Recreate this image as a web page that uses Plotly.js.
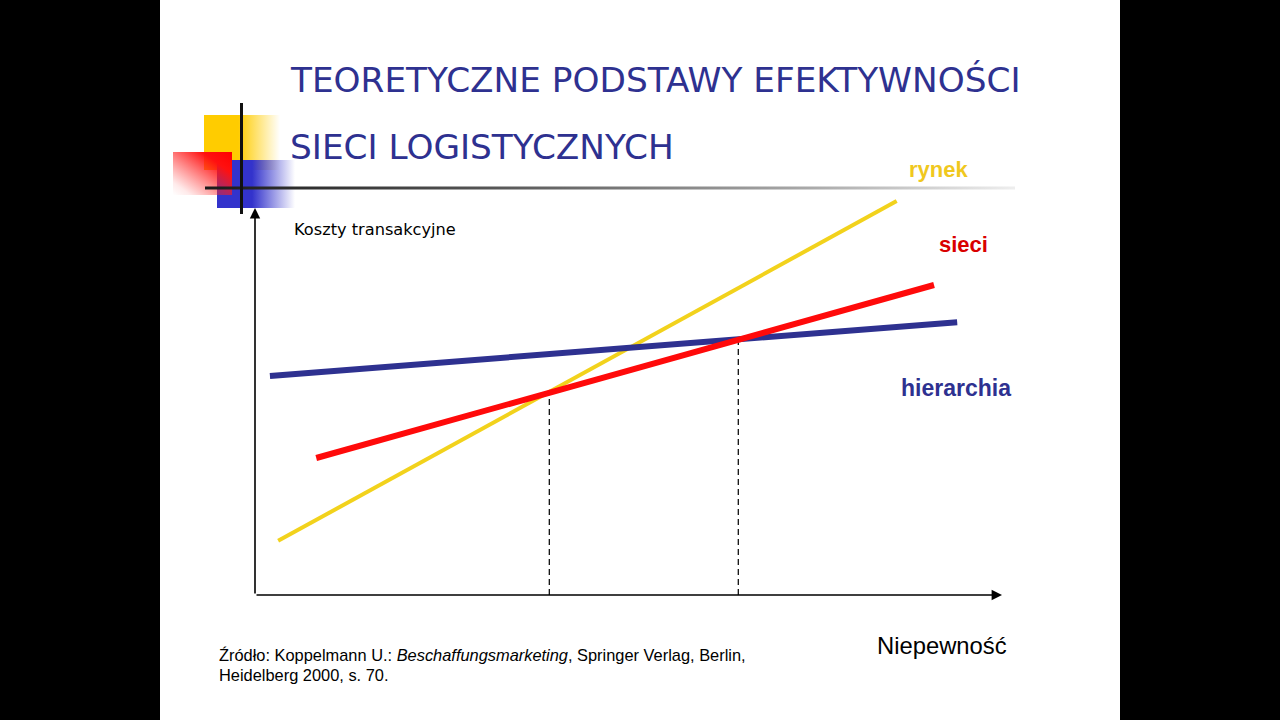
<!DOCTYPE html>
<html>
<head>
<meta charset="utf-8">
<script src="https://cdn.plot.ly/plotly-3.0.1.min.js"></script>
<style>
html,body{margin:0;padding:0;background:#000;}
#chart{width:1280px;height:720px;}
</style>
</head>
<body>
<div id="chart"></div>
<script>
// ---- data (arbitrary units, origin at the axes corner) ----
const seriesNames = ['rynek', 'sieci', 'hierarchia'];
const rynekX = [0.31, 8.59];
const rynekY = [1.40, 10.18];
const sieciX = [0.82, 9.09];
const sieciY = [3.54, 8.01];
const hierarchiaX = [0.20, 9.40];
const hierarchiaY = [5.66, 7.05];
const crossX = [3.94, 6.47];
const crossY = [5.22, 6.61];
const axisMaxX = 10;
const axisMaxY = 10;
const titleLines = ['TEORETYCZNE PODSTAWY EFEKTYWNOŚCI', 'SIECI LOGISTYCZNYCH'];
const yAxisLabel = 'Koszty transakcyjne';
const xAxisLabel = 'Niepewność';
const sourceLines = ['Źródło: Koppelmann U.: <i>Beschaffungsmarketing</i>, Springer Verlag, Berlin,', 'Heidelberg 2000, s. 70.'];

// ---- layout geometry ----
const W = 1280, H = 720;
const X0 = 255, XS = 74.7;   // pixel of x=0, pixels per unit
const Y0 = 595, YS = 38.7;   // pixel of y=0, pixels per unit
const px = v => v / W;
const py = v => 1 - v / H;

const colors = {rynek: '#F2D21C', sieci: '#FF0A0A', hierarchia: '#2E3190'};
const labelColors = {rynek: '#F0C81E', sieci: '#D90000', hierarchia: '#2E3190'};
const widths = {rynek: 4, sieci: 6, hierarchia: 6};
const seriesX = {rynek: rynekX, sieci: sieciX, hierarchia: hierarchiaX};
const seriesY = {rynek: rynekY, sieci: sieciY, hierarchia: hierarchiaY};

const traces = [];
crossX.forEach((cx, i) => {
  traces.push({x: [cx, cx], y: [0, crossY[i]], mode: 'lines', type: 'scatter',
    line: {color: '#111', width: 1.3, dash: '6px,4px'}, hoverinfo: 'skip', showlegend: false});
});
['rynek', 'hierarchia', 'sieci'].forEach(n => {
  traces.push({x: seriesX[n], y: seriesY[n], name: n, mode: 'lines', type: 'scatter',
    line: {color: colors[n], width: widths[n]}, hoverinfo: 'skip', showlegend: false});
});

// decorative slide ornament (gradients) as an SVG image
const svg = `<svg xmlns="http://www.w3.org/2000/svg" width="960" height="720" viewBox="160 0 960 720">
<defs>
<linearGradient id="gy" x1="0" y1="0" x2="1" y2="0">
<stop offset="0" stop-color="#FFCC00"/><stop offset="0.45" stop-color="#FFCC00"/><stop offset="1" stop-color="#FFCC00" stop-opacity="0"/></linearGradient>
<linearGradient id="gb" x1="0" y1="0" x2="1" y2="0">
<stop offset="0" stop-color="#3333CC"/><stop offset="0.45" stop-color="#3333CC"/><stop offset="1" stop-color="#3333CC" stop-opacity="0"/></linearGradient>
<linearGradient id="gr" x1="1" y1="0" x2="0" y2="1">
<stop offset="0" stop-color="#FF0000"/><stop offset="0.25" stop-color="#FF1010"/><stop offset="0.85" stop-color="#FF3030" stop-opacity="0.1"/><stop offset="1" stop-color="#FF3030" stop-opacity="0"/></linearGradient>
<linearGradient id="gl" x1="0" y1="0" x2="1" y2="0">
<stop offset="0" stop-color="#1a1a1a"/><stop offset="0.35" stop-color="#555"/><stop offset="0.75" stop-color="#aaa"/><stop offset="1" stop-color="#eee"/></linearGradient>
</defs>
<rect x="204" y="115" width="76" height="55" fill="url(#gy)"/>
<rect x="217" y="160" width="78" height="48" fill="url(#gb)"/>
<rect x="173" y="152" width="59" height="43" fill="url(#gr)"/>
<rect x="205" y="186.5" width="810" height="3" fill="url(#gl)"/>
<rect x="240" y="103" width="3" height="111" fill="#111"/>
</svg>`;

const annotations = [];
// axes with arrows
annotations.push({x: axisMaxX, y: 0, ax: 0, ay: 0, xref: 'x', yref: 'y', axref: 'x', ayref: 'y',
  text: '', showarrow: true, arrowhead: 2, arrowsize: 1.3, arrowwidth: 1.6, arrowcolor: '#000', standoff: 0});
annotations.push({x: 0, y: axisMaxY, ax: 0, ay: 0, xref: 'x', yref: 'y', axref: 'x', ayref: 'y',
  text: '', showarrow: true, arrowhead: 2, arrowsize: 1.3, arrowwidth: 1.6, arrowcolor: '#000', standoff: 0});
// title
const titleY = [80, 147];
titleLines.forEach((t, i) => annotations.push({xref: 'paper', yref: 'paper', x: px(288), y: py(titleY[i]),
  xanchor: 'left', yanchor: 'middle', showarrow: false, text: t,
  font: {family: 'DejaVu Sans', size: 34.3, color: '#2E3190'}}));
// axis labels
annotations.push({xref: 'paper', yref: 'paper', x: px(292), y: py(229), xanchor: 'left', yanchor: 'middle',
  showarrow: false, text: yAxisLabel, font: {family: 'DejaVu Sans', size: 16.2, color: '#000'}});
annotations.push({xref: 'paper', yref: 'paper', x: px(942), y: py(645), xanchor: 'center', yanchor: 'middle',
  showarrow: false, text: xAxisLabel, font: {family: 'Liberation Sans', size: 23.8, color: '#000'}});
// series labels
const labelPos = {rynek: [938, 169], sieci: [963, 244], hierarchia: [956, 388]};
const labelSize = {rynek: 22, sieci: 22, hierarchia: 23};
seriesNames.forEach(n => annotations.push({xref: 'paper', yref: 'paper', x: px(labelPos[n][0]), y: py(labelPos[n][1]),
  xanchor: 'center', yanchor: 'middle', showarrow: false, text: '<b>' + n + '</b>',
  font: {family: 'Liberation Sans', size: labelSize[n], color: labelColors[n]}}));
// source
const srcY = [655, 675];
sourceLines.forEach((t, i) => annotations.push({xref: 'paper', yref: 'paper', x: px(217), y: py(srcY[i]),
  xanchor: 'left', yanchor: 'middle', showarrow: false, text: t,
  font: {family: 'Liberation Sans', size: 16.4, color: '#000'}}));

const layout = {
  width: W, height: H,
  margin: {l: 0, r: 0, t: 0, b: 0, pad: 0},
  paper_bgcolor: '#ffffff', plot_bgcolor: 'rgba(0,0,0,0)',
  showlegend: false,
  xaxis: {range: [-X0 / XS, (W - X0) / XS], visible: false, fixedrange: true},
  yaxis: {range: [-(H - Y0) / YS, Y0 / YS], visible: false, fixedrange: true},
  shapes: [
    {type: 'rect', xref: 'paper', yref: 'paper', x0: 0, x1: px(160), y0: 0, y1: 1, fillcolor: '#000', line: {width: 0}, layer: 'below'},
    {type: 'rect', xref: 'paper', yref: 'paper', x0: px(1120), x1: 1, y0: 0, y1: 1, fillcolor: '#000', line: {width: 0}, layer: 'below'}
  ],
  images: [{source: 'data:image/svg+xml;charset=utf-8,' + encodeURIComponent(svg),
    xref: 'paper', yref: 'paper', x: px(160), y: 1, sizex: 960 / W, sizey: 1,
    xanchor: 'left', yanchor: 'top', sizing: 'stretch', layer: 'below'}],
  annotations: annotations
};

Plotly.newPlot('chart', traces, layout, {staticPlot: true, displayModeBar: false});
</script>
</body>
</html>
